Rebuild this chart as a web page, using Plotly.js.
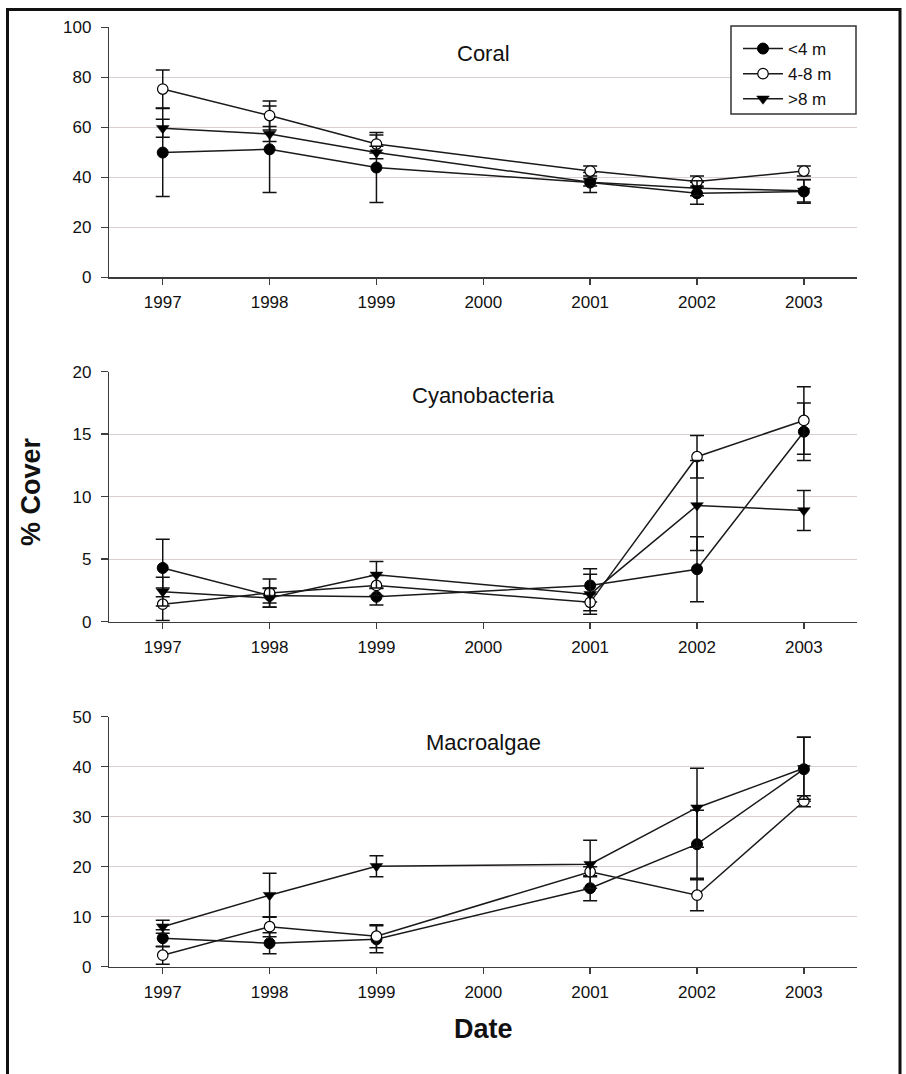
<!DOCTYPE html>
<html>
<head>
<meta charset="utf-8">
<script src="https://cdn.plot.ly/plotly-3.0.1.min.js"></script>
<style>
  html, body { margin: 0; padding: 0; background: #fff; }
  #chart { width: 906px; height: 1074px; }
</style>
</head>
<body>
<div id="chart"></div>
<script>
// Survey years (no sampling in 2000)
const years = [1997, 1998, 1999, 2001, 2002, 2003];
const tickYears = [1997, 1998, 1999, 2000, 2001, 2002, 2003];
const depthNames = ['<4 m', '4-8 m', '>8 m'];

// Coral cover (%), mean and error
const coralShallow = [49.9, 51.2, 43.9, 37.9, 33.6, 34.3];
const coralShallowErr = [17.6, 17.3, 14.0, 4.0, 4.4, 4.7];
const coralMid = [75.3, 64.7, 53.3, 42.5, 38.3, 42.5];
const coralMidErr = [7.6, 5.8, 3.6, 2.0, 2.2, 2.0];
const coralDeep = [59.6, 57.3, 49.9, 38.0, 35.6, 34.6];
const coralDeepErr = [3.6, 3.0, 2.5, 1.5, 3.0, 4.5];

// Cyanobacteria cover (%)
const cyanoShallow = [4.3, 2.1, 2.0, 2.9, 4.2, 15.2];
const cyanoShallowErr = [2.3, 0.6, 0.66, 1.33, 2.6, 2.3];
const cyanoMid = [1.4, 2.3, 2.9, 1.55, 13.2, 16.1];
const cyanoMidErr = [1.3, 1.12, 0.8, 0.67, 1.7, 2.7];
const cyanoDeep = [2.4, 1.9, 3.75, 2.2, 9.3, 8.9];
const cyanoDeepErr = [1.15, 0.75, 1.06, 1.6, 3.6, 1.6];

// Macroalgae cover (%)
const macroShallow = [5.7, 4.7, 5.5, 15.7, 24.5, 39.5];
const macroShallowErr = [1.7, 2.1, 2.7, 2.5, 6.8, 6.4];
const macroMid = [2.3, 8.0, 6.1, 19.0, 14.3, 33.1];
const macroMidErr = [1.8, 2.0, 2.3, 1.0, 3.1, 1.1];
const macroDeep = [8.0, 14.3, 20.1, 20.5, 31.8, 39.7];
const macroDeepErr = [1.3, 4.4, 2.1, 4.8, 7.9, 6.2];

const panelNames = ['Coral', 'Cyanobacteria', 'Macroalgae'];
const panelRanges = [[0, 100], [0, 20], [0, 50]];
const panelDticks = [20, 5, 10];

const W = 906, H = 1074;
const px = v => v / W;
const py = v => 1 - v / H;

const FONT = 'Liberation Sans, Arial, Helvetica, sans-serif';
const INK = '#111111';
const AXIS = '#3c3c3c';
const GRID = '#d9d1cd';

// marker styles per depth class
const markerStyles = [
  { symbol: 'circle', size: 11, color: '#000', line: { color: '#000', width: 1 } },
  { symbol: 'circle', size: 10.5, color: '#fff', line: { color: '#000', width: 1.2 } },
  { symbol: 'triangle-down', size: 11, color: '#000', line: { color: '#000', width: 0.5 } }
];

const panelData = [
  [[coralShallow, coralShallowErr], [coralMid, coralMidErr], [coralDeep, coralDeepErr]],
  [[cyanoShallow, cyanoShallowErr], [cyanoMid, cyanoMidErr], [cyanoDeep, cyanoDeepErr]],
  [[macroShallow, macroShallowErr], [macroMid, macroMidErr], [macroDeep, macroDeepErr]]
];

// plot-area pixel boxes (top, bottom) for each panel
const panelPx = [[27.3, 277.3], [371.7, 621.7], [716.7, 966.7]];
const xLeft = 109.3, xRight = 857.3;

const traces = [];
panelData.forEach((series, p) => {
  const sfx = p === 0 ? '' : String(p + 1);
  series.forEach((s, k) => {
    traces.push({
      type: 'scatter',
      mode: 'lines+markers',
      x: years,
      y: s[0],
      name: depthNames[k],
      legendgroup: depthNames[k],
      showlegend: p === 0,
      xaxis: 'x' + sfx,
      yaxis: 'y' + sfx,
      line: { color: '#1a1a1a', width: 1.5 },
      marker: markerStyles[k],
      error_y: { type: 'data', array: s[1], visible: true, color: INK, thickness: 1.5, width: 7 },
      cliponaxis: false
    });
  });
});

const layout = {
  width: W,
  height: H,
  margin: { l: 0, r: 0, t: 0, b: 0, pad: 0 },
  paper_bgcolor: '#fff',
  plot_bgcolor: '#fff',
  font: { family: FONT, color: INK },
  showlegend: true,
  legend: {
    x: px(738), y: py(31), xanchor: 'left', yanchor: 'top',
    bgcolor: 'rgba(0,0,0,0)', borderwidth: 0,
    font: { family: FONT, size: 17, color: INK },
    itemwidth: 40,
    tracegroupgap: 0
  },
  annotations: [],
  shapes: [
    // outer frame
    { type: 'rect', xref: 'paper', yref: 'paper',
      x0: px(7.5), x1: px(900), y0: py(1080), y1: py(9.5),
      line: { color: '#111', width: 3 }, layer: 'above' },
    // legend box
    { type: 'rect', xref: 'paper', yref: 'paper',
      x0: px(731), x1: px(856), y0: py(114), y1: py(26),
      fillcolor: '#fff', line: { color: '#333', width: 1.5 }, layer: 'above' }
  ]
};

panelPx.forEach((b, p) => {
  const sfx = p === 0 ? '' : String(p + 1);
  layout['xaxis' + sfx] = {
    domain: [px(xLeft), px(xRight)],
    anchor: 'y' + sfx,
    range: [1996.5, 2003.5],
    tickmode: 'array',
    tickvals: tickYears,
    ticktext: tickYears.map(String),
    ticks: 'outside', ticklen: 6, tickwidth: 1.5, tickcolor: AXIS,
    showline: true, linecolor: AXIS, linewidth: 1.5,
    showgrid: false, zeroline: false,
    tickfont: { family: FONT, size: 17, color: INK },
    ticklabelstandoff: 3,
    fixedrange: true
  };
  layout['yaxis' + sfx] = {
    domain: [py(b[1]), py(b[0])],
    anchor: 'x' + sfx,
    range: panelRanges[p],
    dtick: panelDticks[p],
    tick0: 0,
    ticks: 'outside', ticklen: 7, tickwidth: 1.5, tickcolor: AXIS,
    showline: true, linecolor: AXIS, linewidth: 1.5,
    showgrid: true, gridcolor: GRID, gridwidth: 1.2,
    zeroline: false,
    tickfont: { family: FONT, size: 17, color: INK },
    ticklabelstandoff: 6,
    fixedrange: true
  };
  // panel title, centred over the plot area
  const titleY = [53.3, 395.7, 742.5][p];
  layout.annotations.push({
    xref: 'paper', yref: 'paper',
    x: px((xLeft + xRight) / 2), y: py(titleY),
    xanchor: 'center', yanchor: 'middle',
    text: panelNames[p], showarrow: false,
    font: { family: FONT, size: 22, color: INK }
  });
});

// shared axis labels
layout.annotations.push({
  xref: 'paper', yref: 'paper', x: px(31), y: py(492),
  xanchor: 'center', yanchor: 'middle', textangle: -90,
  text: '<b>% Cover</b>', showarrow: false,
  font: { family: FONT, size: 27, color: INK }
});
layout.annotations.push({
  xref: 'paper', yref: 'paper', x: px(483.3), y: py(1029),
  xanchor: 'center', yanchor: 'middle',
  text: '<b>Date</b>', showarrow: false,
  font: { family: FONT, size: 27, color: INK }
});

Plotly.newPlot('chart', traces, layout, { staticPlot: true, displayModeBar: false });
</script>
</body>
</html>
